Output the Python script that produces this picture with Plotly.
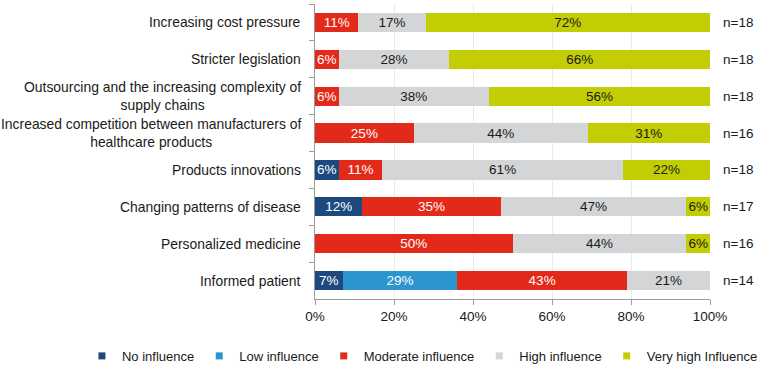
import plotly.graph_objects as go

categories = [
    "Increasing cost pressure",
    "Stricter legislation",
    "Outsourcing and the increasing complexity of<br>supply chains",
    "Increased competition between manufacturers of<br>healthcare products",
    "Products innovations",
    "Changing patterns of disease",
    "Personalized medicine",
    "Informed patient",
]
no_influence = [0, 0, 0, 0, 6, 12, 0, 7]
low_influence = [0, 0, 0, 0, 0, 0, 0, 29]
moderate_influence = [11, 6, 6, 25, 11, 35, 50, 43]
high_influence = [17, 28, 38, 44, 61, 47, 44, 21]
very_high_influence = [72, 66, 56, 31, 22, 6, 6, 0]
n_labels = ["n=18", "n=18", "n=18", "n=16", "n=18", "n=17", "n=16", "n=14"]
x_ticks = [0, 20, 40, 60, 80, 100]
x_tick_labels = ["0%", "20%", "40%", "60%", "80%", "100%"]

series = [
    ("No influence", no_influence, "#1d4a7e", "white"),
    ("Low influence", low_influence, "#2a95cf", "white"),
    ("Moderate influence", moderate_influence, "#e32a1a", "white"),
    ("High influence", high_influence, "#d3d5d7", "#1a1a1a"),
    ("Very high Influence", very_high_influence, "#c2cd04", "#1a1a1a"),
]

FONT = "Liberation Sans, Arial, sans-serif"
fig = go.Figure()
for name, vals, color, tcolor in series:
    fig.add_trace(go.Bar(
        y=categories, x=vals, orientation="h", name=name,
        marker=dict(color=color, line=dict(width=0)),
        text=[f"{v}%" if v > 0 else "" for v in vals],
        textposition="inside", insidetextanchor="middle", textangle=0,
        textfont=dict(color=tcolor, size=13.5, family=FONT),
        showlegend=False, hoverinfo="skip",
    ))
    fig.add_trace(go.Scatter(
        x=[None], y=[None], mode="markers", name=name,
        marker=dict(symbol="square", size=7, color=color),
        showlegend=True,
    ))

annotations = []
for cat, n in zip(categories, n_labels):
    annotations.append(dict(
        x=0, xref="paper", y=cat, yref="y", text=cat, showarrow=False,
        xanchor="right", align="center", xshift=-12,
        font=dict(size=13.9, color="#1a1a1a", family=FONT),
    ))
    annotations.append(dict(
        x=1, xref="paper", y=cat, yref="y", text=n, showarrow=False,
        xanchor="left", xshift=11,
        font=dict(size=13.5, color="#1a1a1a", family=FONT),
    ))

fig.update_layout(
    width=760, height=370,
    margin=dict(l=315, r=50, t=4, b=71, autoexpand=False),
    barmode="stack", bargap=0.48,
    paper_bgcolor="white", plot_bgcolor="white",
    font=dict(family=FONT, size=13, color="#1a1a1a"),
    uniformtext=dict(minsize=13.5, mode="show"),
    annotations=annotations,
    legend=dict(
        orientation="h", x=-0.59, xanchor="left", y=-0.193, yanchor="middle",
        font=dict(size=13, family=FONT), itemwidth=30,
        traceorder="normal", tracegroupgap=0,
    ),
    xaxis=dict(
        range=[0, 100], tickvals=x_ticks, ticktext=x_tick_labels,
        showgrid=True, gridcolor="#ebebeb", gridwidth=1,
        showline=True, linecolor="#9a9a9a", linewidth=1,
        ticks="outside", ticklen=5, tickcolor="#9a9a9a",
        tickfont=dict(size=13.5, family=FONT), zeroline=False,
    ),
    yaxis=dict(
        categoryorder="array", categoryarray=categories, autorange="reversed",
        showticklabels=False, showline=True, linecolor="#9a9a9a", linewidth=1,
        ticks="outside", ticklen=5, tickcolor="#9a9a9a", tickson="boundaries",
        showgrid=False,
    ),
)
fig.write_html(
    "out.html",
    config={"displayModeBar": False},
    post_script="document.body.style.margin='0';document.body.style.padding='0';",
)
